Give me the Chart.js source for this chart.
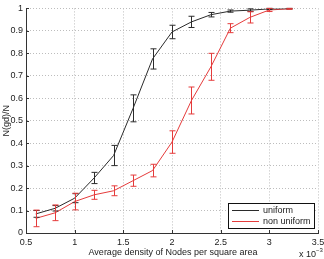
<!DOCTYPE html>
<html>
<head>
<meta charset="utf-8">
<script src="https://cdn.jsdelivr.net/npm/chart.js@4/dist/chart.umd.min.js"></script>
<style>
html,body{margin:0;padding:0;background:#fff;}
#wrap{width:324px;height:259px;position:relative;}
</style>
</head>
<body>
<div id="wrap"><canvas id="c" width="324" height="259"></canvas></div>
<script>
const density = [0.6, 0.8, 1.0, 1.2, 1.4, 1.6, 1.8, 2.0, 2.2, 2.4, 2.6, 2.8, 3.0, 3.2];
const uniformMean = [0.085, 0.11, 0.155, 0.245, 0.345, 0.555, 0.775, 0.895, 0.94, 0.972, 0.988, 0.992, 0.998, 0.999];
const uniformErr  = [0.015, 0.012, 0.02, 0.025, 0.045, 0.06, 0.045, 0.03, 0.025, 0.01, 0.005, 0.006, 0.003, 0.002];
const nonUniformMean = [0.065, 0.09, 0.14, 0.17, 0.188, 0.233, 0.278, 0.405, 0.59, 0.74, 0.912, 0.96, 0.993, 0.998];
const nonUniformErr  = [0.037, 0.035, 0.037, 0.02, 0.022, 0.025, 0.028, 0.05, 0.06, 0.06, 0.02, 0.025, 0.007, 0.002];
const xTicks = [0.5, 1, 1.5, 2, 2.5, 3, 3.5];
const yTicks = [0, 0.1, 0.2, 0.3, 0.4, 0.5, 0.6, 0.7, 0.8, 0.9, 1];
const seriesNames = ['uniform', 'non uniform'];
const xTitle = 'Average density of Nodes per square area';
const yTitle = 'N(gd)/N';

const BLACK = '#2b2b2b';
const RED = '#e53b3b';
const FONT = '"Liberation Sans", Arial, sans-serif';

function pts(xs, ys){ return xs.map((x,i)=>({x:x, y:ys[i]})); }

const errorBars = {
  id: 'errorBars',
  afterDatasetsDraw(chart){
    const ctx = chart.ctx, xs = chart.scales.x, ys = chart.scales.y;
    const sets = [[uniformMean, uniformErr, BLACK],[nonUniformMean, nonUniformErr, RED]];
    ctx.save();
    ctx.lineWidth = 1;
    sets.forEach(([m,e,col])=>{
      ctx.strokeStyle = col;
      density.forEach((d,i)=>{
        const px = Math.round(xs.getPixelForValue(d)) + 0.5;
        const top = ys.getPixelForValue(Math.min(m[i]+e[i], 1.0));
        const bot = ys.getPixelForValue(m[i]-e[i]);
        ctx.beginPath();
        ctx.moveTo(px, top); ctx.lineTo(px, bot);
        ctx.moveTo(px-3, top); ctx.lineTo(px+3, top);
        ctx.moveTo(px-3, bot); ctx.lineTo(px+3, bot);
        ctx.stroke();
      });
    });
    ctx.restore();
  }
};

const decorations = {
  id: 'decorations',
  afterDraw(chart){
    const ctx = chart.ctx, xs = chart.scales.x, ys = chart.scales.y, a = chart.chartArea;
    ctx.save();
    // inward ticks
    ctx.strokeStyle = '#333'; ctx.lineWidth = 1;
    ctx.beginPath();
    yTicks.forEach(v=>{ const py = Math.round(ys.getPixelForValue(v))+0.5; ctx.moveTo(a.left, py); ctx.lineTo(a.left+3, py); });
    xTicks.forEach(v=>{ const px = Math.round(xs.getPixelForValue(v))+0.5; ctx.moveTo(px, a.bottom); ctx.lineTo(px, a.bottom-3); });
    ctx.stroke();
    // titles
    ctx.fillStyle = '#222';
    ctx.font = '9px ' + FONT;
    ctx.textAlign = 'center'; ctx.textBaseline = 'middle';
    ctx.fillText(xTitle, (a.left+a.right)/2 + 1, 253);
    ctx.save();
    ctx.translate(7, (a.top+a.bottom)/2);
    ctx.rotate(-Math.PI/2);
    ctx.fillText(yTitle, 0, 0);
    ctx.restore();
    // exponent
    ctx.textAlign = 'left';
    ctx.font = '9px ' + FONT;
    ctx.fillText('x 10', 299, 255);
    ctx.font = '6px ' + FONT;
    ctx.fillText('\u22123', 316, 250);
    // legend
    const lx = 228.5, ly = 203.5, lw = 86, lh = 25;
    ctx.fillStyle = '#fff';
    ctx.fillRect(lx, ly, lw, lh);
    ctx.strokeStyle = '#111'; ctx.lineWidth = 1;
    ctx.strokeRect(lx, ly, lw, lh);
    const rows = [[seriesNames[0], BLACK, 210.5],[seriesNames[1], RED, 221.5]];
    rows.forEach(([t,c,y])=>{
      ctx.strokeStyle = c;
      ctx.beginPath(); ctx.moveTo(232, y); ctx.lineTo(259, y); ctx.stroke();
      ctx.fillStyle = '#222';
      ctx.font = '9px ' + FONT;
      ctx.textBaseline = 'middle';
      ctx.fillText(t, 263, y);
    });
    ctx.restore();
  }
};

new Chart(document.getElementById('c'), {
  type: 'scatter',
  data: {
    datasets: [
      { label: seriesNames[0], data: pts(density, uniformMean), showLine: true, borderColor: BLACK, borderWidth: 1, pointRadius: 0, tension: 0 },
      { label: seriesNames[1], data: pts(density, nonUniformMean), showLine: true, borderColor: RED, borderWidth: 1, pointRadius: 0, tension: 0 }
    ]
  },
  options: {
    responsive: false,
    animation: false,
    devicePixelRatio: 1,
    layout: { padding: { top: 4, right: 0, left: 0, bottom: 0 } },
    plugins: { legend: { display: false }, tooltip: { enabled: false } },
    scales: {
      x: {
        type: 'linear', min: 0.5, max: 3.5,
        afterFit(s){ s.height = 26; s.paddingRight = 6; s.paddingLeft = 0; },
        afterBuildTicks(s){ s.ticks = xTicks.map(v=>({value:v})); },
        ticks: { color: '#222', font: { family: FONT, size: 9 }, padding: 4, maxRotation: 0,
                 callback: v => String(v) },
        grid: { color: '#bdbdbd', drawTicks: false },
        border: { display: true, color: '#333', width: 1, dash: [1, 2] }
      },
      y: {
        type: 'linear', min: 0, max: 1,
        afterFit(s){ s.width = 26; },
        afterBuildTicks(s){ s.ticks = yTicks.map(v=>({value:v})); },
        ticks: { color: '#222', font: { family: FONT, size: 9 }, padding: 3,
                 callback: v => String(Math.round(v*10)/10) },
        grid: { color: '#bdbdbd', drawTicks: false },
        border: { display: true, color: '#333', width: 1, dash: [1, 2] }
      }
    }
  },
  plugins: [errorBars, decorations]
});
</script>
</body>
</html>
